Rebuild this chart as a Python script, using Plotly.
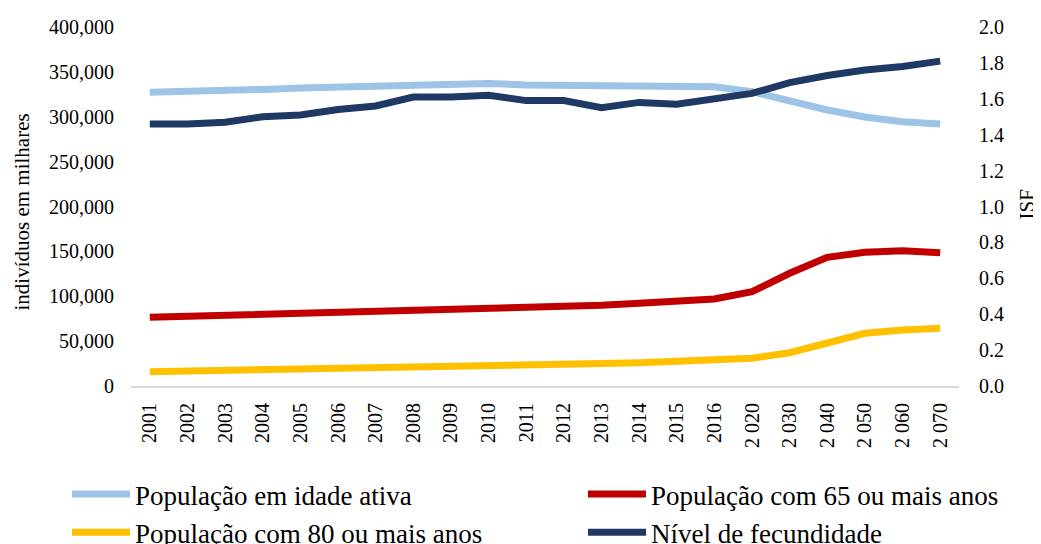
import plotly.graph_objects as go

years = ["2001", "2002", "2003", "2004", "2005", "2006", "2007", "2008", "2009", "2010",
         "2011", "2012", "2013", "2014", "2015", "2016",
         "2 020", "2 030", "2 040", "2 050", "2 060", "2 070"]

pop_idade_ativa = [327400, 327800, 329000, 330500, 332000, 333200, 334500, 336000, 336500, 337000,
                   335500, 335300, 334700, 334000, 333500, 333300,
                   328000, 317500, 307500, 299700, 294500, 292000]

pop_65_mais = [76500, 77500, 78500, 79500, 80500, 81500, 82500, 83500, 84600, 85600,
               86600, 87700, 90000, 92300, 94600, 96900,
               105100, 125600, 143400, 149000, 150700, 148500]

pop_80_mais = [15900, 16500, 17200, 17900, 18600, 19300, 20000, 20800, 21600, 22400,
               23200, 24000, 25000, 26000, 27100, 28200,
               30900, 37100, 48200, 58700, 62400, 64300]

fecundidade = [1.46, 1.46, 1.47, 1.50, 1.51, 1.54, 1.56, 1.61, 1.61, 1.62,
               1.59, 1.59, 1.55, 1.58, 1.57, 1.60,
               1.63, 1.69, 1.73, 1.76, 1.78, 1.81]

FONT = "Liberation Serif"

W, H = 1033, 536
ML, MR, MT, MB = 123, 82, 19, 158
PW, PH = W - ML - MR, H - MT - MB

fig = go.Figure()
fig.add_trace(go.Scatter(x=years, y=pop_idade_ativa, mode="lines", name="População em idade ativa",
                         line=dict(color="#9DC3E6", width=7), legend="legend"))
fig.add_trace(go.Scatter(x=years, y=pop_65_mais, mode="lines", name="População com 65 ou mais anos",
                         line=dict(color="#C00000", width=7), legend="legend2"))
fig.add_trace(go.Scatter(x=years, y=pop_80_mais, mode="lines", name="População com 80 ou mais anos",
                         line=dict(color="#FFC000", width=7), legend="legend"))
fig.add_trace(go.Scatter(x=years, y=fecundidade, mode="lines", name="Nível de fecundidade",
                         line=dict(color="#203864", width=7), yaxis="y2", legend="legend2"))

legend_common = dict(orientation="h", xref="container", yref="container",
                     xanchor="left", yanchor="top",
                     font=dict(size=27, family=FONT, color="#000000"), itemwidth=58,
                     bgcolor="rgba(0,0,0,0)", entrywidthmode="pixels")

fig.update_layout(
    width=W, height=H,
    margin=dict(l=ML, r=MR, t=MT, b=MB, autoexpand=False),
    paper_bgcolor="white", plot_bgcolor="white",
    font=dict(family=FONT, size=20, color="#000000"),
    xaxis=dict(type="category", range=[-0.5, 21.5], tickangle=-90, showgrid=False, showline=True,
               linecolor="#D9D9D9", linewidth=2, ticks="outside", ticklen=7,
               tickcolor="rgba(0,0,0,0)", tickfont=dict(size=20)),
    yaxis=dict(range=[0, 400000], dtick=50000, tickformat=",", showgrid=False,
               zeroline=False, showline=False, ticks="outside", ticklen=12,
               tickcolor="rgba(0,0,0,0)", tickfont=dict(size=20)),
    yaxis2=dict(range=[0, 2.0], dtick=0.2, tickformat=".1f", overlaying="y", side="right",
                showgrid=False, zeroline=False, showline=False, ticks="outside", ticklen=15,
                tickcolor="rgba(0,0,0,0)", tickfont=dict(size=20)),
    legend=dict(x=59 / W, y=1 - 462 / H, entrywidth=500, **legend_common),
    legend2=dict(x=575 / W, y=1 - 462 / H, entrywidth=400, **legend_common),
    showlegend=True,
    annotations=[
        dict(text="indivíduos em milhares", textangle=-90, showarrow=False,
             xref="paper", yref="paper", x=(13 - ML) / PW, y=(MT + PH - 204.5) / PH,
             xanchor="center", yanchor="middle", font=dict(size=21, family=FONT)),
        dict(text="ISF", textangle=-90, showarrow=False,
             xref="paper", yref="paper", x=(1018 - ML) / PW, y=(MT + PH - 196.5) / PH,
             xanchor="center", yanchor="middle", font=dict(size=21, family=FONT)),
    ],
)

fig.write_html("out.html")
